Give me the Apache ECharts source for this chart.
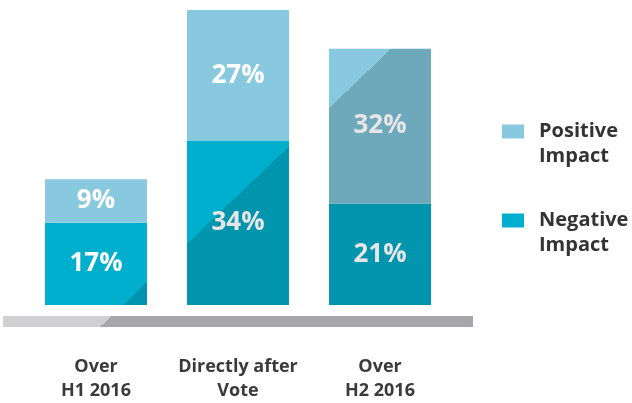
<!DOCTYPE html>
<html>
<head>
<meta charset="utf-8">
<script src="https://cdn.jsdelivr.net/npm/echarts@6/dist/echarts.min.js"></script>
<style>html,body{margin:0;padding:0;background:#fff}#c{width:632px;height:403px}</style>
</head>
<body>
<div id="c"></div>
<script>
var categories = ['Over\nH1 2016', 'Directly after\nVote', 'Over\nH2 2016'];
var negativeValues = [17, 34, 21];
var positiveValues = [9, 27, 32];
var seriesNames = ['Positive Impact', 'Negative Impact'];

// diagonal shading: a line through (124,304) with slope -0.955; area to its lower right is darker
function diag(light, dark) {
  var cx = 124, cy = 304, k = 300;
  return new echarts.graphic.LinearGradient(
    cx - 0.955 * k, cy - k, cx + 0.955 * k, cy + k,
    [{offset: 0, color: light}, {offset: 0.5, color: light},
     {offset: 0.5, color: dark}, {offset: 1, color: dark}], true);
}
var POS_L = '#89c9df', POS_D = '#6ea8bb';
var NEG_L = '#00afcd', NEG_D = '#0094ad';

var chart = echarts.init(document.getElementById('c'), null, {renderer: 'canvas'});
var posLabel = ['#ffffff', '#ffffff', '#e6e6e6'];
var negLabel = ['#ffffff', '#e6e6e6', '#e6e6e6'];

chart.setOption({
  animation: false,
  backgroundColor: '#ffffff',
  grid: {left: 25, right: 181, top: 10, bottom: 98},
  xAxis: {
    type: 'category', data: categories,
    axisLine: {show: false}, axisTick: {show: false},
    axisLabel: {interval: 0, margin: 50, fontFamily: 'Open Sans', fontWeight: 'bold', fontSize: 18, lineHeight: 24, color: '#3a3a3a'}
  },
  yAxis: {type: 'value', min: 0, max: 61, show: false, splitLine: {show: false}},
  legend: {
    orient: 'vertical', left: 502, top: 94, padding: 0,
    itemWidth: 22, itemHeight: 14, itemGap: 14,
    icon: 'rect',
    data: [
      {name: seriesNames[0], itemStyle: {color: POS_L}},
      {name: seriesNames[1], itemStyle: {color: NEG_L}}
    ],
    formatter: function (n) { return '\n' + n.replace(' ', '\n'); },
    textStyle: {fontFamily: 'Open Sans', fontWeight: 'bold', fontSize: 20, lineHeight: 25, color: '#333333', padding: [0, 0, 0, 10]}
  },
  graphic: [{
    type: 'rect', silent: true, z: -1,
    shape: {x: 3, y: 316, width: 470, height: 11},
    style: {fill: diag('#d0d0d2', '#a6a6aa')}
  }],
  series: [
    {
      name: seriesNames[1], type: 'bar', stack: 'a', barWidth: 102,
      itemStyle: {color: diag(NEG_L, NEG_D)},
      label: {show: true, position: 'inside', formatter: '{c}%', color: '#fff', fontFamily: 'Open Sans', fontWeight: 'bold', fontSize: 26},
      data: negativeValues.map(function (v, i) { return {value: v, label: {color: negLabel[i]}}; })
    },
    {
      name: seriesNames[0], type: 'bar', stack: 'a', barWidth: 102,
      itemStyle: {color: diag(POS_L, POS_D)},
      label: {show: true, position: 'inside', formatter: '{c}%', color: '#fff', fontFamily: 'Open Sans', fontWeight: 'bold', fontSize: 26},
      data: positiveValues.map(function (v, i) { return {value: v, label: {color: posLabel[i]}}; })
    }
  ]
});
</script>
</body>
</html>
